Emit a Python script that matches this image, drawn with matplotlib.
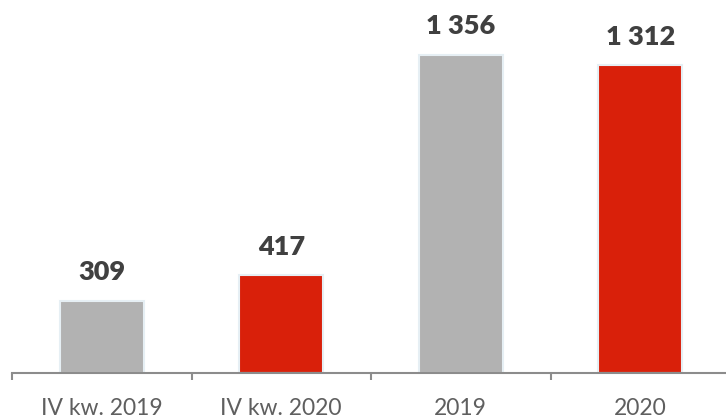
import numpy as np
import matplotlib.pyplot as plt

categories = ["IV kw. 2019", "IV kw. 2020", "2019", "2020"]
values = [309, 417, 1356, 1312]
labels = ["309", "417", "1 356", "1 312"]
colors = ["#b2b2b2", "#d9200a", "#b2b2b2", "#d9200a"]

plt.rcParams["font.family"] = ["Lato", "DejaVu Sans"]

fig = plt.figure(figsize=(7.26, 4.2), dpi=100)
ax = fig.add_axes([12 / 726, 47 / 420, 718 / 726, 373 / 420])

x = np.arange(len(categories))
bars = ax.bar(x, values, width=0.47, color=colors, edgecolor="#e6eff4", linewidth=1.5)

for b, lab in zip(bars, labels):
    ax.annotate(lab, (b.get_x() + b.get_width() / 2, b.get_height()),
                xytext=(0, 12), textcoords="offset points",
                ha="center", va="bottom", fontsize=19.5, fontweight="heavy",
                color="#404040")

ax.set_xlim(-0.5, 3.5)
ax.set_ylim(0, 1590)
ax.set_xticks(x)
ax.set_xticklabels(categories, fontsize=16.5, color="#5f5f5f")
ax.set_xticks(np.arange(-0.5, 4.0, 1.0), minor=True)
ax.tick_params(axis="x", which="major", length=0, pad=18)
ax.tick_params(axis="x", which="minor", length=5, width=1.5, color="#8c8c8c")
ax.set_yticks([])
for s in ["top", "right", "left"]:
    ax.spines[s].set_visible(False)
ax.spines["bottom"].set_color("#8c8c8c")
ax.spines["bottom"].set_linewidth(1.5)

fig.savefig("out.png", dpi=100)
